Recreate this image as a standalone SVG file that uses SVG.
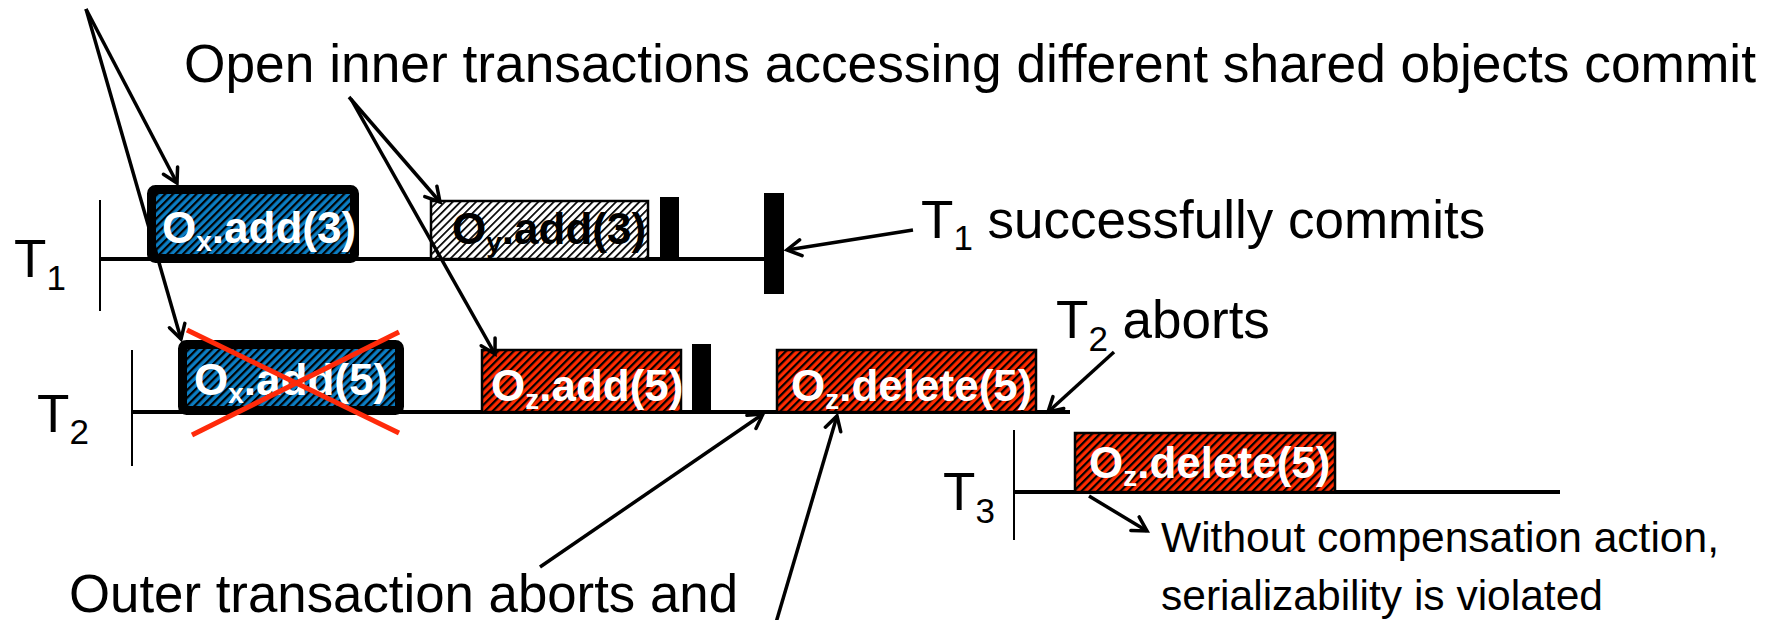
<svg xmlns="http://www.w3.org/2000/svg" width="1771" height="620" viewBox="0 0 1771 620">
<style>
.t{font-family:"Liberation Sans",Arial,sans-serif;fill:#000}
.big{font-size:53px}
.sub{font-size:35px}
.lbl{font-family:"Liberation Sans",Arial,sans-serif;font-weight:bold;font-size:44px}
.lsub{font-size:28px}
.w{fill:#fff}
.k{fill:#000}
.tl{stroke:#000;stroke-width:4;fill:none}
.tick{stroke:#000;stroke-width:2;fill:none}
.arr{stroke:#000;stroke-width:3.5;fill:none;marker-end:url(#ah)}
.bar{fill:#000}
.thin{stroke:#000;stroke-width:2.5}
.thick{stroke:#000;stroke-width:9}
.cross{stroke:#ff2a0a;stroke-width:5;fill:none}
</style>
<defs>
<pattern id="hBlue" width="5.5" height="5.5" patternUnits="userSpaceOnUse" patternTransform="rotate(45)"><rect width="5.5" height="5.5" fill="#0b7dc3"/><rect width="2.2" height="5.5" fill="#000"/></pattern>
<pattern id="hRed" width="5.5" height="5.5" patternUnits="userSpaceOnUse" patternTransform="rotate(45)"><rect width="5.5" height="5.5" fill="#ff2a00"/><rect width="2.2" height="5.5" fill="#000"/></pattern>
<pattern id="hWhite" width="5.5" height="5.5" patternUnits="userSpaceOnUse" patternTransform="rotate(45)"><rect width="5.5" height="5.5" fill="#fff"/><rect width="1.7" height="5.5" fill="#000"/></pattern>
<marker id="ah" viewBox="0 0 20 20" refX="17" refY="10" markerWidth="20" markerHeight="20" markerUnits="userSpaceOnUse" orient="auto"><path d="M3,2 L17,10 L3,18" fill="none" stroke="#000" stroke-width="3.5" stroke-linecap="round" stroke-linejoin="miter"/></marker>
</defs>
<rect width="1771" height="620" fill="#fff"/>

<g id="timelines">
<line class="tick" x1="100" y1="200" x2="100" y2="311"/>
<line class="tl" x1="100" y1="259" x2="766" y2="259"/>
<line class="tick" x1="132" y1="350" x2="132" y2="466"/>
<line class="tl" x1="132" y1="412" x2="1070" y2="412"/>
<line class="tick" x1="1014" y1="430" x2="1014" y2="540"/>
<line class="tl" x1="1014" y1="492" x2="1560" y2="492"/>
</g>

<g id="label-T1"><text class="t big" x="14" y="277">T<tspan class="sub" dy="13">1</tspan></text></g>
<g id="label-T2"><text class="t big" x="37" y="432">T<tspan class="sub" dy="12">2</tspan></text></g>
<g id="label-T3"><text class="t big" x="943" y="510">T<tspan class="sub" dy="13">3</tspan></text></g>

<g id="node-ox-add3">
<rect x="151.5" y="189.5" width="203" height="69" rx="4" fill="url(#hBlue)" class="thick"/>
<text class="lbl w" x="162" y="243">O<tspan class="lsub" dy="8">x</tspan><tspan dy="-8">.add(3)</tspan></text>
</g>
<g id="node-oy-add3">
<rect x="431" y="201" width="217" height="58" fill="url(#hWhite)" class="thin"/>
<text class="lbl k" x="452" y="244">O<tspan class="lsub" dy="8">y</tspan><tspan dy="-8">.add(3)</tspan></text>
</g>
<g id="bar-t1-inner"><rect class="bar" x="660" y="197" width="19" height="63"/></g>
<g id="bar-t1-commit"><rect class="bar" x="764" y="193" width="20" height="101"/></g>

<g id="node-ox-add5">
<rect x="182.5" y="344.5" width="217" height="66" rx="4" fill="url(#hBlue)" class="thick"/>
<text class="lbl w" x="194" y="395">O<tspan class="lsub" dy="8">x</tspan><tspan dy="-8">.add(5)</tspan></text>
<line class="cross" x1="187" y1="330" x2="399" y2="433"/>
<line class="cross" x1="192" y1="435" x2="399" y2="332"/>
</g>
<g id="node-oz-add5">
<rect x="482" y="350" width="199" height="62" fill="url(#hRed)" class="thin"/>
<text class="lbl w" x="491" y="401">O<tspan class="lsub" dy="8">z</tspan><tspan dy="-8">.add(5)</tspan></text>
</g>
<g id="bar-t2-inner"><rect class="bar" x="692" y="344" width="19" height="68"/></g>
<g id="node-oz-delete5-t2">
<rect x="777" y="350" width="259" height="62" fill="url(#hRed)" class="thin"/>
<text class="lbl w" x="791" y="401">O<tspan class="lsub" dy="8">z</tspan><tspan dy="-8">.delete(5)</tspan></text>
</g>
<g id="node-oz-delete5-t3">
<rect x="1075" y="433" width="260" height="59" fill="url(#hRed)" class="thin"/>
<text class="lbl w" x="1089" y="478">O<tspan class="lsub" dy="8">z</tspan><tspan dy="-8">.delete(5)</tspan></text>
</g>

<g id="connectors">
<line class="arr" x1="86" y1="9" x2="177" y2="183"/>
<line class="arr" x1="86" y1="9" x2="181" y2="339"/>
<line class="arr" x1="349" y1="97" x2="440" y2="202"/>
<line class="arr" x1="351" y1="99" x2="495" y2="354"/>
<line class="arr" x1="913" y1="230" x2="787" y2="250"/>
<line class="arr" x1="1114" y1="352" x2="1048" y2="412"/>
<line class="arr" x1="540" y1="567" x2="763" y2="414"/>
<line class="arr" x1="775" y1="626" x2="837" y2="416"/>
<line class="arr" x1="1089" y1="496" x2="1147" y2="531"/>
</g>

<g id="text-open"><text class="t big" x="184" y="82" textLength="1572" lengthAdjust="spacingAndGlyphs">Open inner transactions accessing different shared objects commit</text></g>
<g id="text-t1-commits"><text class="t big" x="921" y="238">T<tspan class="sub" dy="12">1</tspan><tspan dy="-12"> successfully commits</tspan></text></g>
<g id="text-t2-aborts"><text class="t big" x="1056" y="338">T<tspan class="sub" dy="13">2</tspan><tspan dy="-13"> aborts</tspan></text></g>
<g id="text-outer"><text class="t big" x="69" y="612" textLength="669" lengthAdjust="spacingAndGlyphs">Outer transaction aborts and</text></g>
<g id="text-without">
<text class="t" font-size="42" x="1161" y="552" textLength="558" lengthAdjust="spacingAndGlyphs">Without compensation action,</text>
<text class="t" font-size="42" x="1161" y="610" textLength="442" lengthAdjust="spacingAndGlyphs">serializability is violated</text>
</g>
</svg>
